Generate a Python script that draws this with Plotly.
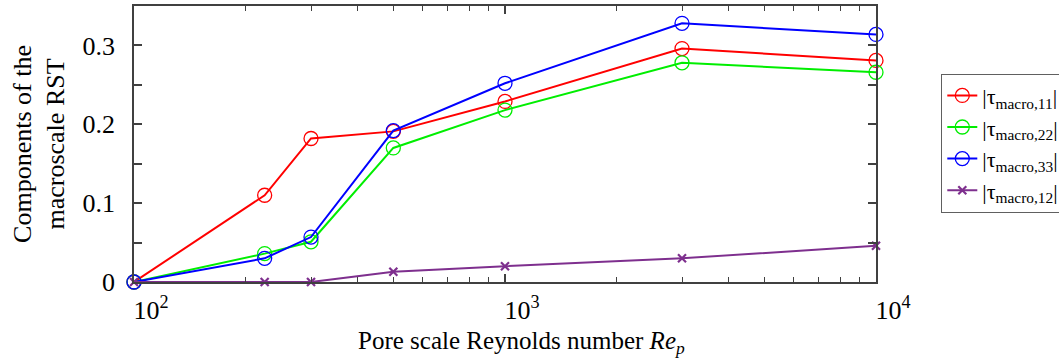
import plotly.graph_objects as go

re_p = [100, 225, 300, 500, 1000, 3000, 10000]
tau11 = [0.0, 0.110, 0.182, 0.191, 0.229, 0.296, 0.281]
tau22 = [0.0, 0.036, 0.051, 0.170, 0.218, 0.278, 0.266]
tau33 = [0.0, 0.030, 0.057, 0.192, 0.252, 0.328, 0.314]
tau12 = [0.0, 0.0, 0.0, 0.013, 0.020, 0.030, 0.046]

names = ["|τ<sub>macro,11</sub>|", "|τ<sub>macro,22</sub>|",
         "|τ<sub>macro,33</sub>|", "|τ<sub>macro,12</sub>|"]
colors = ["#ff0000", "#00ee00", "#0000ff", "#7e2f8e"]

x_major = [100, 1000, 10000]
x_major_text = ["10<sup>2</sup>", "10<sup>3</sup>", "10<sup>4</sup>"]
y_ticks = [0, 0.05, 0.1, 0.15, 0.2, 0.25, 0.3, 0.35]
y_text = ["0", "", "0.1", "", "0.2", "", "0.3", ""]
x_minor = [m * d for d in (100, 1000) for m in range(2, 10)]

FONT = "Liberation Serif, Times New Roman, serif"

fig = go.Figure()
for vals, name, col in zip([tau11, tau22, tau33], names[:3], colors[:3]):
    fig.add_trace(go.Scatter(
        x=re_p, y=vals, name=name, mode="lines+markers",
        line=dict(color=col, width=2),
        marker=dict(symbol="circle-open", size=14, color=col, line=dict(width=1.3, color=col)),
        cliponaxis=False))
fig.add_trace(go.Scatter(
    x=re_p, y=tau12, name=names[3], mode="lines+markers",
    line=dict(color=colors[3], width=2),
    marker=dict(symbol="x-thin", size=8, color=colors[3], line=dict(width=2.2, color=colors[3])),
    cliponaxis=False))

axis_common = dict(showline=True, linecolor="#404040", linewidth=1.8, mirror="ticks",
                   ticks="inside", tickcolor="#404040", showgrid=False, zeroline=False,
                   automargin=False,
                   tickfont=dict(family=FONT, size=26, color="black"))

fig.update_xaxes(type="log", range=[2, 4], tickvals=x_major, ticktext=x_major_text,
                 ticklen=8, tickwidth=1.5, ticklabelstandoff=4, ticklabelshift=17,
                 minor=dict(ticks="inside", tickvals=x_minor, ticklen=5, tickwidth=1.2,
                            tickcolor="#404040", showgrid=False),
                 **axis_common)
fig.update_yaxes(range=[0, 0.35], tickvals=y_ticks, ticktext=y_text, ticklen=8, tickwidth=1.5,
                 ticklabelstandoff=12,
                 title=dict(text="Components of the<br>macroscale RST",
                            font=dict(family=FONT, size=26, color="black"), standoff=10),
                 **axis_common)

fig.add_annotation(text="Pore scale Reynolds number <i>Re<sub>p</sub></i>",
                   xref="paper", yref="paper", x=0.5216, y=-0.155,
                   xanchor="center", yanchor="top", showarrow=False,
                   font=dict(family=FONT, size=25, color="black"))

fig.update_layout(
    width=1059, height=359,
    margin=dict(l=134, r=183, t=6, b=77, autoexpand=False),
    paper_bgcolor="white", plot_bgcolor="white",
    font=dict(family=FONT, size=22, color="black"),
    legend=dict(x=1.088, y=0.755, xanchor="left", yanchor="top",
                bordercolor="#606060", borderwidth=1, bgcolor="white",
                font=dict(family=FONT, size=22, color="black"),
                tracegroupgap=0, itemwidth=30),
    showlegend=True,
)

fig.write_html("out.html")
